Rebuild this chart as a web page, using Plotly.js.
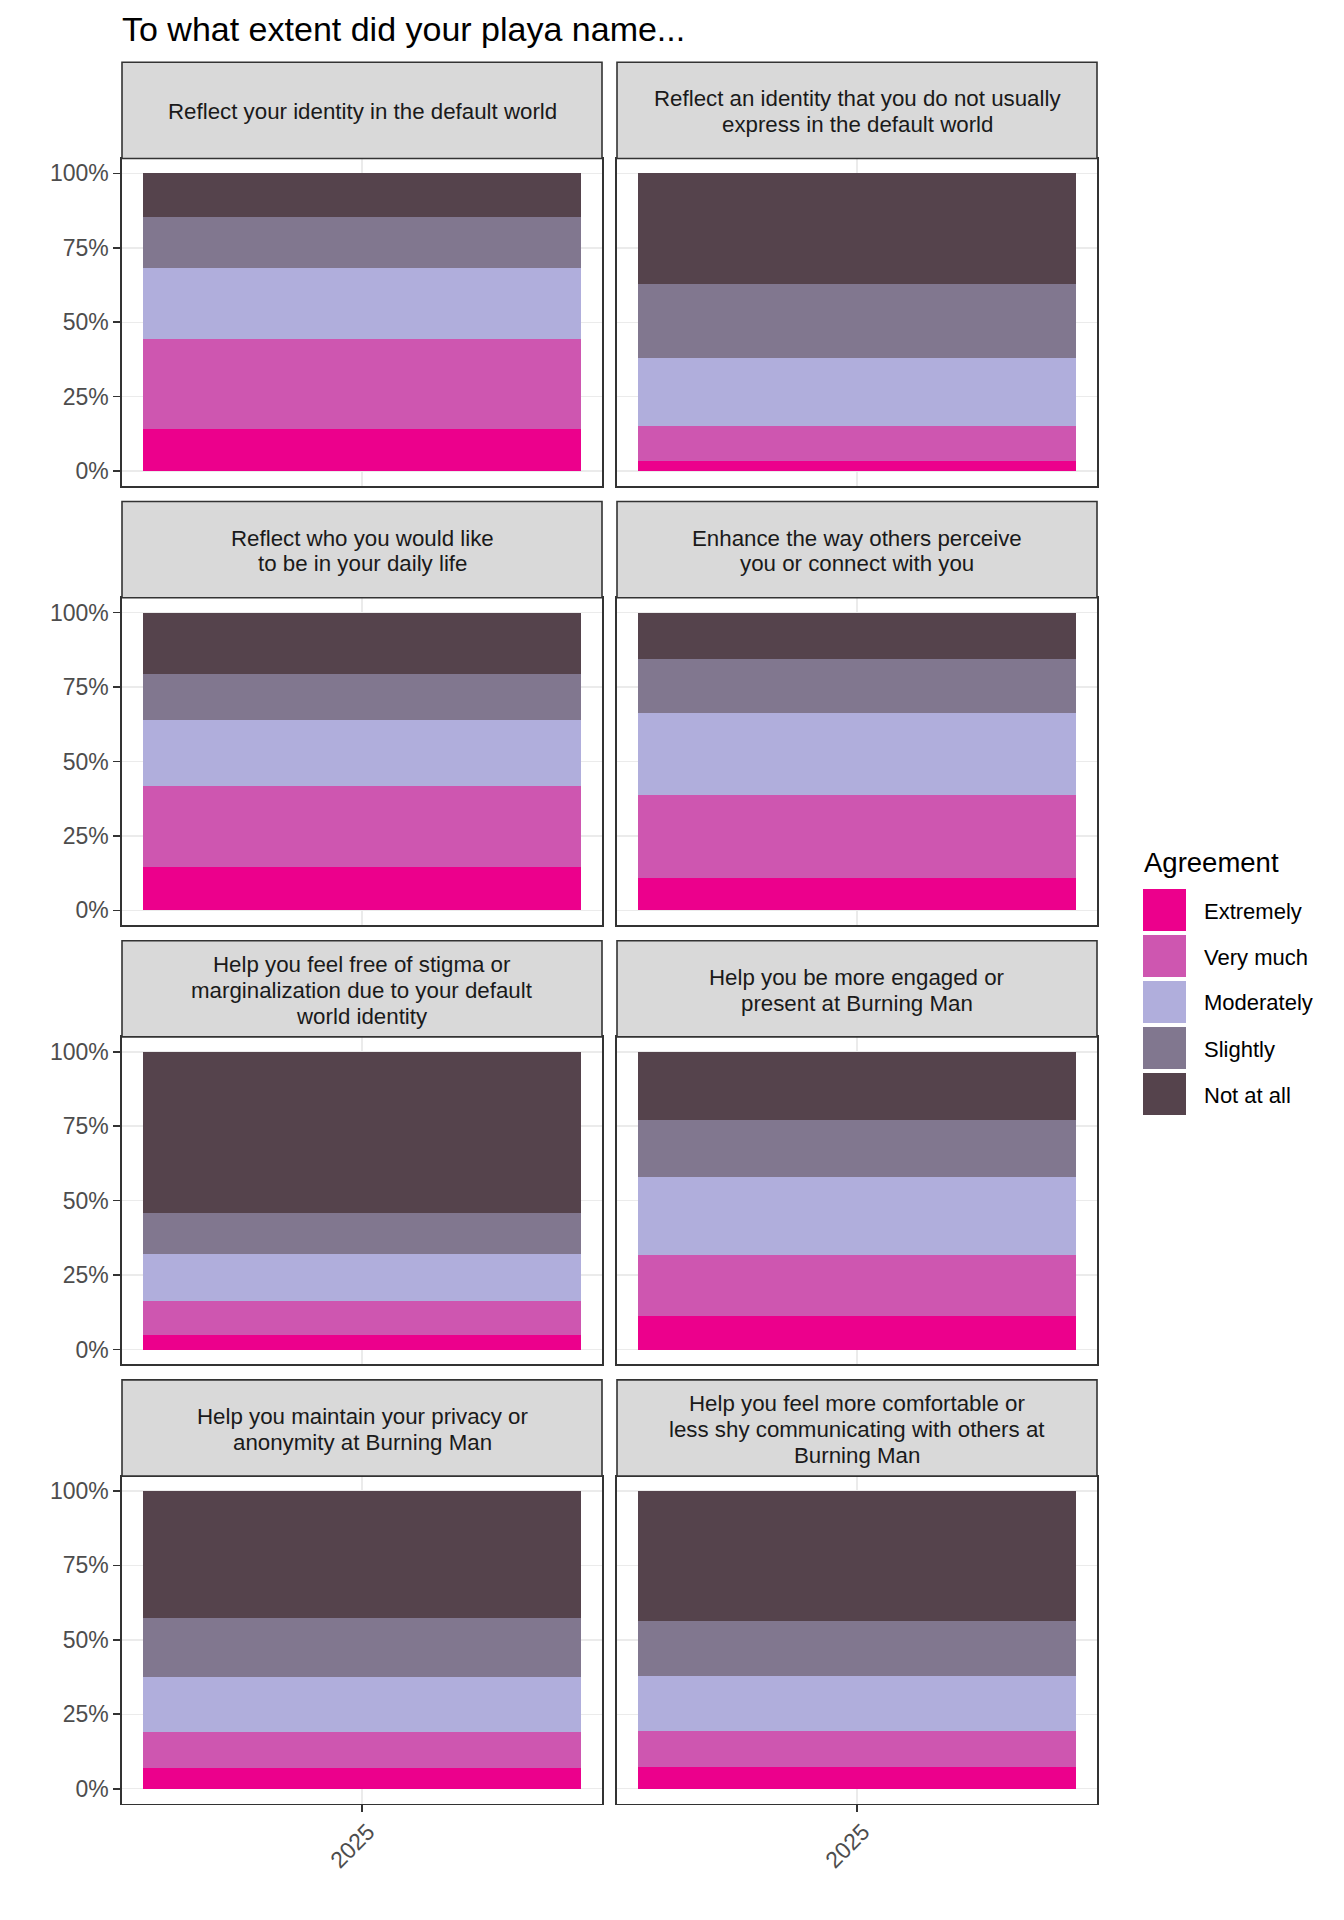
<!DOCTYPE html>
<html>
<head>
<meta charset="utf-8">
<script src="https://cdn.plot.ly/plotly-3.0.1.min.js"></script>
<style>
  html, body { margin: 0; padding: 0; background: #fff; }
  #chart { width: 1344px; height: 1920px; }
</style>
</head>
<body>
<div id="chart"></div>
<script>
// facet titles (line breaks as in the strips)
const facets = [
  'Reflect your identity in the default world',
  'Reflect an identity that you do not usually\nexpress in the default world',
  'Reflect who you would like\nto be in your daily life',
  'Enhance the way others perceive\nyou or connect with you',
  'Help you feel free of stigma or\nmarginalization due to your default\nworld identity',
  'Help you be more engaged or\npresent at Burning Man',
  'Help you maintain your privacy or\nanonymity at Burning Man',
  'Help you feel more comfortable or\nless shy communicating with others at\nBurning Man'
];
const years = ['2025'];
const levels = ['Extremely', 'Very much', 'Moderately', 'Slightly', 'Not at all'];
const levelColors = ['#EC008C', '#CE56B0', '#B0AEDC', '#81778F', '#55434C'];

// share of respondents (%) per facet, one array per agreement level
const extremely  = [14.0,  3.3, 14.4, 10.7,  4.9, 11.3,  6.9,  7.2];
const veryMuch   = [30.4, 11.8, 27.3, 28.0, 11.5, 20.6, 12.1, 12.2];
const moderately = [23.9, 22.9, 22.2, 27.6, 15.8, 26.0, 18.5, 18.5];
const slightly   = [17.2, 24.9, 15.5, 18.2, 13.5, 19.2, 19.9, 18.4];
const notAtAll   = [14.5, 37.1, 20.6, 15.5, 54.3, 22.9, 42.6, 43.7];
const series = [extremely, veryMuch, moderately, slightly, notAtAll];

const yTicks = [0, 25, 50, 75, 100];

const W = 1344, H = 1920;
const fx = (x) => x / W;
const fy = (y) => 1 - y / H;
const FONT = 'Liberation Sans, Arial, sans-serif';
const BORDER = '#333333';

// facet grid geometry (px)
const cols = [[122, 602], [617, 1097]];
const ROW_STEP = 439.2;
const row = (r) => ({
  stripTop: 62.3 + ROW_STEP * r,
  stripBot: 158.5 + ROW_STEP * r,
  plotBot: 486 + ROW_STEP * r
});

const traces = [];
const layout = {
  width: W, height: H,
  margin: { l: 0, r: 0, t: 0, b: 0 },
  paper_bgcolor: '#fff', plot_bgcolor: '#fff',
  barmode: 'stack',
  showlegend: false,
  font: { family: FONT, color: '#1A1A1A' },
  title: {
    text: 'To what extent did your playa name...',
    x: fx(122), xanchor: 'left', xref: 'paper',
    y: fy(29), yanchor: 'middle', yref: 'paper',
    font: { family: FONT, size: 34, color: '#000' }
  },
  shapes: [], annotations: []
};

facets.forEach((title, i) => {
  const c = i % 2, r = Math.floor(i / 2);
  const g = row(r);
  const n = i + 1;
  const xa = n === 1 ? 'x' : 'x' + n;
  const ya = n === 1 ? 'y' : 'y' + n;
  const bottomRow = r === 3;
  const leftCol = c === 0;

  levels.forEach((lv, k) => {
    traces.push({
      type: 'bar', x: years, y: [series[k][i]], name: lv,
      width: 0.9, xaxis: xa, yaxis: ya,
      marker: { color: levelColors[k], line: { width: 0 } },
      hoverinfo: 'skip'
    });
  });

  layout['xaxis' + (n === 1 ? '' : n)] = {
    domain: [fx(cols[c][0]), fx(cols[c][1])],
    anchor: ya, type: 'category', range: [-0.494, 0.494],
    showline: true, mirror: true, linecolor: BORDER, linewidth: 1.6,
    showgrid: true, gridcolor: '#EBEBEB', gridwidth: 1.5, zeroline: false,
    ticks: bottomRow ? 'outside' : '', ticklen: 7, tickwidth: 1.6, tickcolor: BORDER,
    showticklabels: bottomRow, tickangle: -45,
    ticklabelshift: 6, ticklabelstandoff: -3,
    tickfont: { family: FONT, size: 23, color: '#4D4D4D' },
    fixedrange: true
  };
  layout['yaxis' + (n === 1 ? '' : n)] = {
    domain: [fy(g.plotBot), fy(g.stripBot)],
    anchor: xa, range: [-5, 105],
    tickmode: 'array', tickvals: yTicks, ticktext: yTicks.map(v => v + '%'),
    showline: true, mirror: true, linecolor: BORDER, linewidth: 1.6,
    showgrid: true, gridcolor: '#EBEBEB', gridwidth: 1.5, zeroline: false,
    ticks: leftCol ? 'outside' : '', ticklen: 7, tickwidth: 1.6, tickcolor: BORDER,
    showticklabels: leftCol,
    tickfont: { family: FONT, size: 23, color: '#4D4D4D' },
    fixedrange: true
  };

  // strip
  layout.shapes.push({
    type: 'rect', xref: 'paper', yref: 'paper',
    x0: fx(cols[c][0]), x1: fx(cols[c][1]), y0: fy(g.stripBot), y1: fy(g.stripTop),
    fillcolor: '#D9D9D9', line: { color: BORDER, width: 1.6 }
  });
  const lines = title.split('\n');
  const mid = (g.stripTop + g.stripBot) / 2 + 1.5;
  lines.forEach((t, j) => {
    layout.annotations.push({
      xref: 'paper', yref: 'paper',
      x: fx((cols[c][0] + cols[c][1]) / 2),
      y: fy(mid + (j - (lines.length - 1) / 2) * 25.8),
      xanchor: 'center', yanchor: 'middle', showarrow: false,
      text: t, font: { family: FONT, size: 22.3, color: '#1A1A1A' }
    });
  });
});

// legend
layout.annotations.push({
  xref: 'paper', yref: 'paper', x: fx(1142), y: fy(862),
  xanchor: 'left', yanchor: 'middle', showarrow: false,
  text: 'Agreement', font: { family: FONT, size: 27.5, color: '#000' }
});
levels.forEach((lv, k) => {
  const top = 889 + 46 * k;
  layout.shapes.push({
    type: 'rect', xref: 'paper', yref: 'paper',
    x0: fx(1143), x1: fx(1186), y0: fy(top + 42), y1: fy(top),
    fillcolor: levelColors[k], line: { width: 0 }
  });
  layout.annotations.push({
    xref: 'paper', yref: 'paper', x: fx(1202), y: fy(top + 22),
    xanchor: 'left', yanchor: 'middle', showarrow: false,
    text: lv, font: { family: FONT, size: 22, color: '#000' }
  });
});

Plotly.newPlot('chart', traces, layout, { displayModeBar: false, staticPlot: true });
</script>
</body>
</html>
